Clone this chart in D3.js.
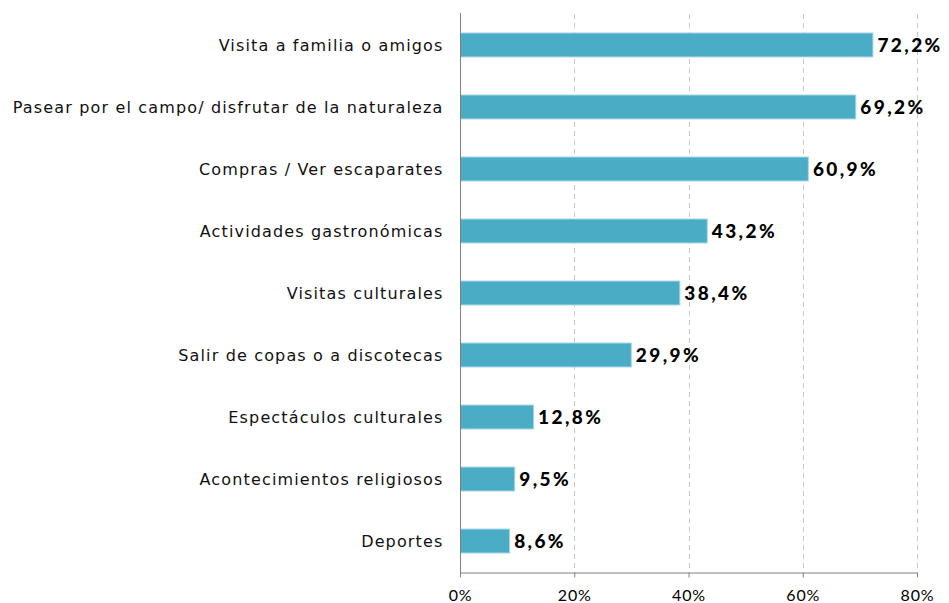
<!DOCTYPE html>
<html><head><meta charset="utf-8">
<script src="https://cdn.jsdelivr.net/npm/d3@7"></script>
<style>body{margin:0;background:#fff}svg{display:block}</style>
</head><body>
<svg id="c" width="949" height="603"></svg>
<script>
const categories = ["Visita a familia o amigos","Pasear por el campo/ disfrutar de la naturaleza","Compras / Ver escaparates","Actividades gastronómicas","Visitas culturales","Salir de copas o a discotecas","Espectáculos culturales","Acontecimientos religiosos","Deportes"];
const values = [72.2,69.2,60.9,43.2,38.4,29.9,12.8,9.5,8.6];
const valueLabels = ["72,2%","69,2%","60,9%","43,2%","38,4%","29,9%","12,8%","9,5%","8,6%"];
const ticks = [0,20,40,60,80];
const tickLabels = ["0%","20%","40%","60%","80%"];

const svg = d3.select("#c");
const mL = 460, mR = 917, mT = 14, mB = 572;
const x = d3.scaleLinear().domain([0,80]).range([mL,mR]);
const y = d3.scaleBand().domain(categories).range([mT,mB]).paddingInner(0.613).paddingOuter(0.306);

// gridlines
svg.append("g").selectAll("line").data(ticks.slice(1)).join("line")
  .attr("x1",d=>Math.round(x(d))+0.5).attr("x2",d=>Math.round(x(d))+0.5)
  .attr("y1",mT).attr("y2",mB)
  .attr("stroke","#c8c8c8").attr("stroke-dasharray","5,4").attr("stroke-width",1);

// bars
svg.append("g").selectAll("rect").data(values).join("rect")
  .attr("x",x(0)+0.5).attr("y",(d,i)=>y(categories[i]))
  .attr("width",d=>x(d)-x(0)).attr("height",y.bandwidth())
  .attr("fill","#4BACC6").attr("stroke","#a9d8e6").attr("stroke-width",1);

// value labels
svg.append("g").selectAll("text").data(values).join("text")
  .attr("x",d=>x(d)+5).attr("y",(d,i)=>y(categories[i])+y.bandwidth()/2)
  .attr("dy","0.38em")
  .attr("font-family","Lato, 'DejaVu Sans', sans-serif").attr("font-weight","900")
  .attr("font-size","19px").attr("letter-spacing","2.4px").attr("fill","#000")
  .text((d,i)=>valueLabels[i]);

// y axis
const yAxis = d3.axisLeft(y).tickSize(0).tickPadding(17);
const gy = svg.append("g").attr("transform",`translate(${mL+0.5},0)`).call(yAxis);
gy.select(".domain").attr("stroke","#808080").attr("d",`M0,${mT-1}V${mB+3}`);
gy.selectAll("text").attr("font-family","'DejaVu Sans', Verdana, sans-serif").attr("font-size","16px")
  .attr("letter-spacing","1.15px").attr("fill","#111").attr("dy","0.36em");

// x axis
const xAxis = d3.axisBottom(x).tickValues(ticks).tickFormat((d,i)=>tickLabels[i]).tickSize(5).tickSizeOuter(0).tickPadding(14);
const gx = svg.append("g").attr("transform",`translate(0,${mB+0.5})`).call(xAxis);
gx.select(".domain").attr("stroke","#808080");
gx.selectAll(".tick line").attr("stroke","#808080");
gx.selectAll("text").attr("font-family","Lato, sans-serif").attr("font-size","16px").attr("letter-spacing","0.8px")
  .attr("fill","#000").attr("dy",null).attr("y",28);
</script>
</body></html>
